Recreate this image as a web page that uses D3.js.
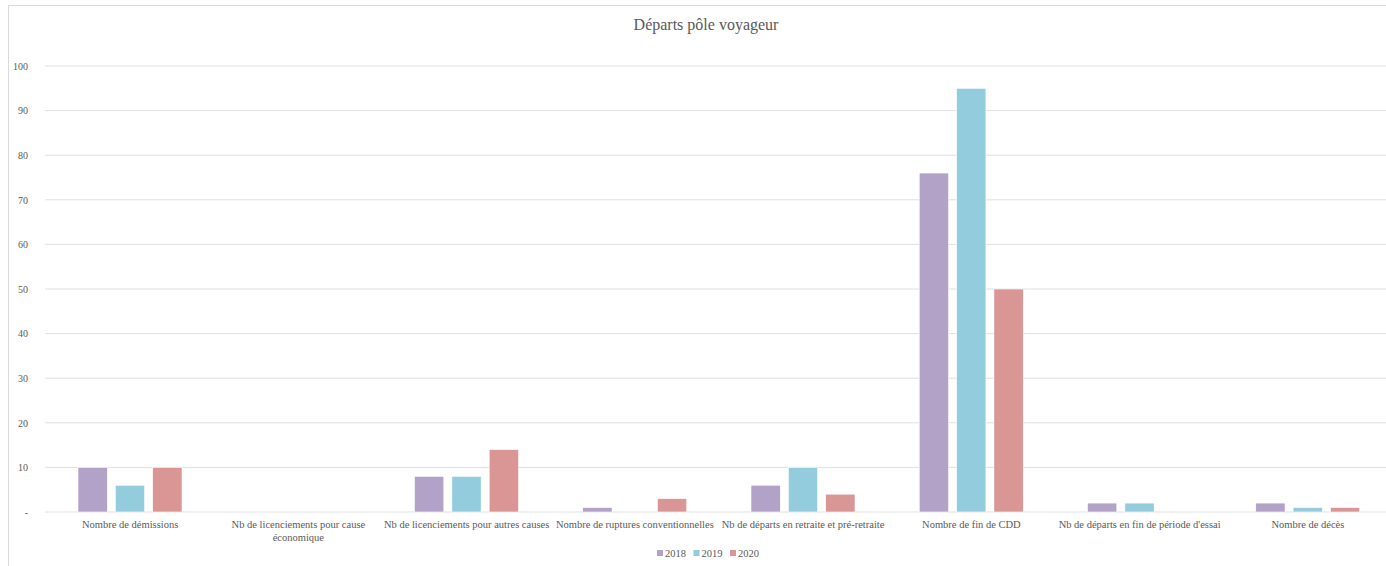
<!DOCTYPE html>
<html>
<head>
<meta charset="utf-8">
<script src="https://cdn.jsdelivr.net/npm/d3@7"></script>
<style>
  body { margin: 0; background: #fff; }
  svg text { font-family: 'Liberation Serif', 'DejaVu Serif', 'Times New Roman', serif !important; fill: #595959; }
</style>
</head>
<body>
<script>
var categories = ["Nombre de démissions", "Nb de licenciements pour cause économique",
  "Nb de licenciements pour autres causes", "Nombre de ruptures conventionnelles",
  "Nb de départs en retraite et pré-retraite", "Nombre de fin de CDD",
  "Nb de départs en fin de période d'essai", "Nombre de décès"];
var years = ["2018", "2019", "2020"];
var values2018 = [10, 0, 8, 1, 6, 76, 2, 2];
var values2019 = [6, 0, 8, 0, 10, 95, 2, 1];
var values2020 = [10, 0, 14, 3, 4, 50, 0, 1];
var yTicks = [0, 10, 20, 30, 40, 50, 60, 70, 80, 90, 100];
var colors = ["#b3a2c7", "#93cddd", "#d99694"];

var W = 1386, H = 566;
var margin = {top: 66, right: -6, bottom: 54, left: 46};
var width = W - margin.left - margin.right,
    height = H - margin.top - margin.bottom;

var svg = d3.select("body").append("svg")
    .attr("width", W).attr("height", H)
    .attr("font-family", "Liberation Serif, serif");

// chart frame
svg.append("rect").attr("x", 8.5).attr("y", 5.5)
    .attr("width", W - 8).attr("height", H)
    .attr("fill", "none").attr("stroke", "#d9d9d9");

var g = svg.append("g")
    .attr("transform", "translate(" + margin.left + "," + margin.top + ")");

var x = d3.scaleBand().domain(categories).range([0, width]);
var x1 = d3.scaleBand().domain(years).range([32, 136]).paddingInner(0.215);
var y = d3.scaleLinear().domain([0, 100]).range([height, 0]);

// gridlines
g.selectAll(".grid").data(yTicks).enter().append("line")
    .attr("x1", -1).attr("x2", width)
    .attr("y1", function(d){ return y(d); }).attr("y2", function(d){ return y(d); })
    .attr("stroke", "#e0e0e0").attr("stroke-width", 1);

// y labels
var yAxis = d3.axisLeft(y).tickValues(yTicks).tickSize(0).tickPadding(18)
    .tickFormat(function(d){ return d === 0 ? "-" : d; });
g.append("g").call(yAxis)
    .attr("font-family", null)
    .call(function(s){ s.select(".domain").remove(); })
    .selectAll("text").attr("font-size", "10px");

var series = [values2018, values2019, values2020];
series.forEach(function(vals, si){
  g.selectAll(".bar" + si).data(vals).enter().append("rect")
    .attr("x", function(d, i){ return x(categories[i]) + x1(years[si]); })
    .attr("y", function(d){ return y(d); })
    .attr("width", x1.bandwidth())
    .attr("height", function(d){ return height - y(d); })
    .attr("fill", colors[si])
    .attr("stroke", "#fff").attr("stroke-width", 0.6);
});

// category labels, wrapped when too wide for the band
var fs = "10.5px";
var xg = g.append("g").attr("transform", "translate(0," + height + ")");
categories.forEach(function(c){
  var t = xg.append("text").attr("x", x(c) + x.bandwidth() / 2).attr("y", 15.5)
      .attr("text-anchor", "middle").attr("font-size", fs);
  t.text(c);
  if (t.node().getComputedTextLength() > x.bandwidth() + 8) {
    t.text(null);
    var words = c.split(" "), line = [], lines = [];
    var probe = xg.append("text").attr("font-size", fs);
    words.forEach(function(w){
      line.push(w);
      probe.text(line.join(" "));
      if (probe.node().getComputedTextLength() > x.bandwidth() - 5 && line.length > 1) {
        line.pop(); lines.push(line.join(" ")); line = [w];
      }
    });
    lines.push(line.join(" "));
    probe.remove();
    lines.forEach(function(l, li){
      t.append("tspan").attr("x", x(c) + x.bandwidth() / 2)
        .attr("dy", li === 0 ? 0 : 13).text(l);
    });
  }
});

// title
svg.append("text").attr("x", 706).attr("y", 30).attr("text-anchor", "middle")
    .attr("font-size", "16px").text("Départs pôle voyageur");

// legend
var legend = svg.append("g").attr("transform", "translate(657,557)");
var lx = 0;
years.forEach(function(yr, i){
  var item = legend.append("g").attr("transform", "translate(" + lx + ",0)");
  item.append("rect").attr("x", 0).attr("y", -7).attr("width", 6).attr("height", 6)
      .attr("fill", colors[i]);
  var tt = item.append("text").attr("x", 8).attr("y", 0).attr("font-size", fs).text(yr);
  lx += 8 + tt.node().getComputedTextLength() + 7.5;
});
</script>
</body>
</html>
